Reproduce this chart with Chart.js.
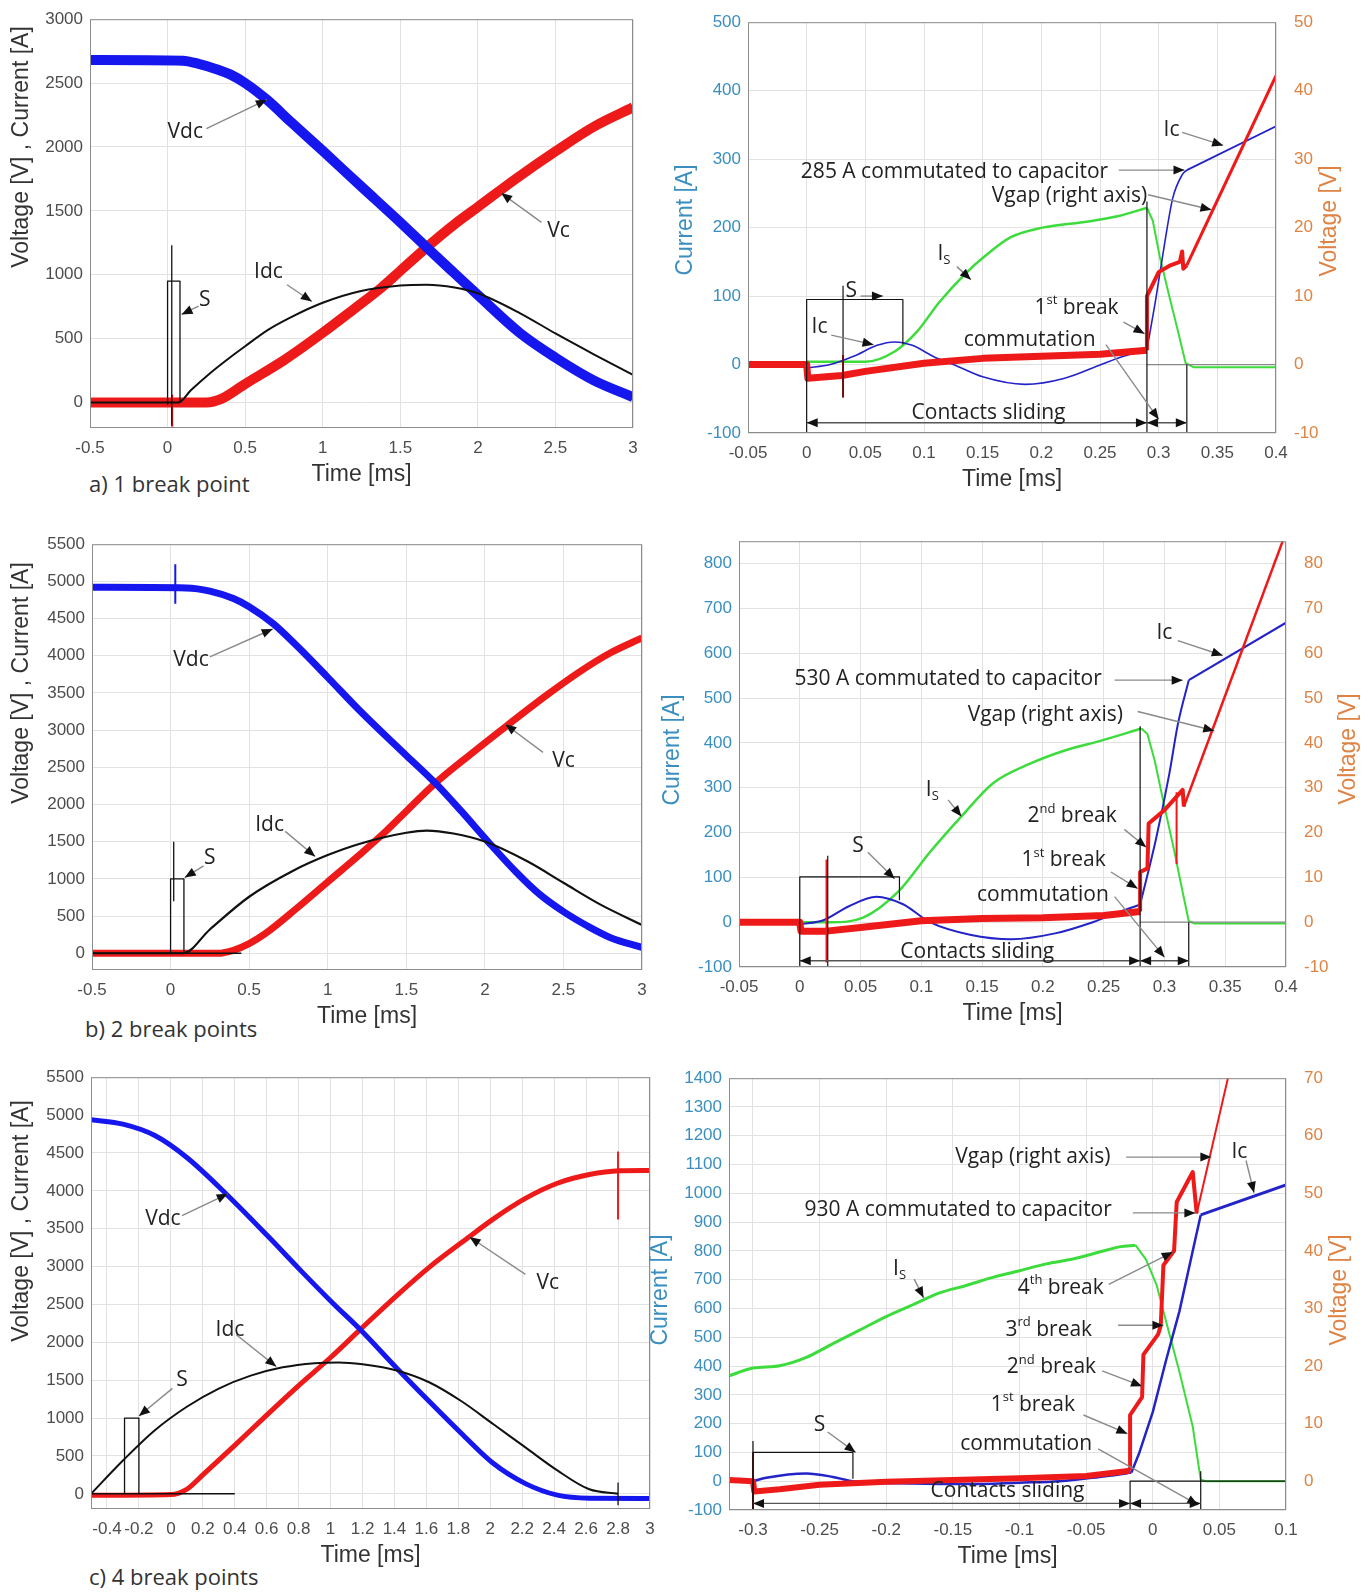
<!DOCTYPE html>
<html>
<head>
<meta charset="utf-8">
<script src="https://cdn.jsdelivr.net/npm/chart.js@4.4.1/dist/chart.umd.min.js"></script>
<style>
body { margin:0; background:#fff; width:1369px; height:1593px; position:relative; overflow:hidden; }
canvas { position:absolute; }
.lbl { position:absolute; font-family:'Open Sans',sans-serif; font-size:22px; color:#333; white-space:nowrap; line-height:1; }
</style>
</head>
<body>
<div class="lbl" style="left:89px;top:472px">a) 1 break point</div>
<div class="lbl" style="left:85px;top:1017px">b) 2 break points</div>
<div class="lbl" style="left:89px;top:1565px">c) 4 break points</div>
<script>
// ---- axes ----
const aTicksX = [-0.5, 0, 0.5, 1, 1.5, 2, 2.5, 3];
const aTicksY = [0, 500, 1000, 1500, 2000, 2500, 3000];
const bTicksY = [0, 500, 1000, 1500, 2000, 2500, 3000, 3500, 4000, 4500, 5000, 5500];
const cTicksX = [-0.4, -0.2, 0, 0.2, 0.4, 0.6, 0.8, 1, 1.2, 1.4, 1.6, 1.8, 2, 2.2, 2.4, 2.6, 2.8, 3];
const rTicksX = [-0.05, 0, 0.05, 0.1, 0.15, 0.2, 0.25, 0.3, 0.35, 0.4];
const aRTicksY = [-100, 0, 100, 200, 300, 400, 500];
const aRTicksV = [-10, 0, 10, 20, 30, 40, 50];
const bRTicksY = [-100, 0, 100, 200, 300, 400, 500, 600, 700, 800];
const bRTicksV = [-10, 0, 10, 20, 30, 40, 50, 60, 70, 80];
const cRTicksX = [-0.3, -0.25, -0.2, -0.15, -0.1, -0.05, 0, 0.05, 0.1];
const cRTicksY = [-100, 0, 100, 200, 300, 400, 500, 600, 700, 800, 900, 1000, 1100, 1200, 1300, 1400];
const cRTicksV = [0, 10, 20, 30, 40, 50, 60, 70];

// ---- a) 1 break point, [ms] / [V],[A] ----
const aVdc = [[-0.5,2680],[0.1,2675],[0.2,2650],[0.3,2615],[0.4,2570],[0.5,2500],[0.64,2370],[0.8,2190],[1.0,1970],[1.24,1700],[1.5,1410],[1.67,1214],[1.85,1010],[2.0,841],[2.27,545],[2.5,351],[2.75,171],[3.0,42]];
const aVc = [[-0.5,0],[0.25,0],[0.35,30],[0.5,145],[0.75,330],[1.0,545],[1.2,730],[1.38,900],[1.5,1030],[1.67,1214],[1.85,1395],[2.0,1530],[2.25,1755],[2.5,1965],[2.75,2160],[3.0,2310]];
const aIdc = [[-0.5,0],[0.07,0],[0.15,95],[0.27,225],[0.4,350],[0.5,440],[0.65,570],[0.8,670],[1.0,780],[1.24,870],[1.5,915],[1.67,922],[1.85,900],[2.0,855],[2.27,700],[2.5,540],[2.75,375],[3.0,215]];
const aS = [[0,-20],[0,950],[0.08,950],[0.08,0]];
const aSpike = [[0.027,-180],[0.027,1230]];
const aVcSpike = [[0.03,-190],[0.03,60]];

// ---- a) right, current [A] and Vgap [V] ----
const aRIsRise = [[0,4],[0.05,4],[0.075,19],[0.094,48],[0.113,91],[0.136,134],[0.151,157],[0.174,186],[0.201,200],[0.24,209],[0.266,217],[0.29,229]];
const aRIsDrop = [[0.29,229],[0.295,210],[0.301,157],[0.309,100],[0.316,52],[0.323,2],[0.33,-4],[0.4,-4]];
const aRIcSlide = [[0,-5],[0.02,0],[0.04,12],[0.06,28],[0.075,33],[0.09,28],[0.11,10],[0.125,0],[0.15,-18],[0.186,-29],[0.22,-20],[0.251,0],[0.27,12],[0.29,22]];
const aRIcRise = [[0.29,22],[0.297,90],[0.305,176],[0.312,243],[0.32,277],[0.324,284]];
const aRIcCap = [[0.324,284],[0.4,348]];
const aRVgNoise = [[-0.05,0],[-0.02,0],[0,0],[0.001,-2],[0.03,-1.6],[0.05,-1],[0.1,0.2],[0.15,0.9],[0.2,1.2],[0.25,1.5],[0.29,2.1]];
const aRVgBreak = [[0.29,2.1],[0.29,10],[0.3,13.5],[0.31,14.5],[0.318,15],[0.32,16.5],[0.321,14],[0.324,14.5]];
const aRVgLine = [[0.324,14.5],[0.4,42.2]];
const aRVgSpike = [[0.031,-4.8],[0.031,1.4]];
const aRS = [[0,-100],[0,95],[0.082,95],[0.082,30]];
const aRSpike = [[0.031,-48],[0.031,115]];
const aRCut1 = [[0.29,-100],[0.29,238]];
const aRCut2 = [[0.324,-100],[0.324,0]];
const aRBase = [[0.29,0],[0.4,0]];

// ---- b) 2 break points ----
const bVdc = [[-0.5,4920],[0.1,4912],[0.25,4870],[0.4,4770],[0.5,4660],[0.654,4430],[0.8,4140],[1.0,3710],[1.2,3270],[1.4,2860],[1.5,2660],[1.69,2277],[1.85,1910],[2.02,1502],[2.2,1090],[2.35,790],[2.5,560],[2.65,370],[2.8,210],[3.0,80]];
const bVc = [[-0.5,0],[0.3,0],[0.4,40],[0.5,130],[0.6,260],[0.8,600],[1.0,960],[1.2,1320],[1.37,1640],[1.5,1910],[1.68,2277],[1.9,2660],[2.14,3060],[2.4,3480],[2.6,3780],[2.8,4040],[3.0,4240]];
const bIdc = [[-0.5,0],[0.08,0],[0.25,320],[0.5,760],[0.78,1110],[1.0,1320],[1.2,1470],[1.5,1620],[1.63,1650],[1.8,1610],[2.0,1502],[2.27,1236],[2.5,948],[2.73,661],[3.0,380]];
const bZero = [[-0.5,0],[0.45,0]];
const bS = [[0,0],[0,1000],[0.085,1000],[0.085,0]];
const bSpike = [[0.02,700],[0.02,1500]];
const bVdcSpike = [[0.03,4700],[0.03,5230]];

// ---- b) right ----
const bRIsRise = [[0,0],[0.026,0],[0.052,10],[0.081,68],[0.107,156],[0.133,236],[0.159,310],[0.189,353],[0.218,383],[0.248,405],[0.281,432]];
const bRIsDrop = [[0.281,432],[0.286,420],[0.292,360],[0.3,258],[0.308,160],[0.314,80],[0.32,2],[0.325,-3],[0.4,-3]];
const bRIcSlide = [[0,-5],[0.02,5],[0.04,35],[0.063,57],[0.085,40],[0.107,0],[0.14,-28],[0.174,-38],[0.21,-25],[0.241,0],[0.265,25],[0.28,39]];
const bRIcRise = [[0.28,39],[0.293,185],[0.304,331],[0.311,441],[0.32,540]];
const bRIcCap = [[0.32,540],[0.4,668]];
const bRVgNoise = [[-0.05,0],[0,0],[0.001,-2],[0.022,-2],[0.05,-1.2],[0.1,0.3],[0.15,0.8],[0.2,1.0],[0.25,1.5],[0.28,2.4]];
const bRVgBreak = [[0.28,2.4],[0.28,11.2],[0.286,12],[0.287,22],[0.3,25],[0.315,29.5],[0.316,25.8]];
const bRVgLine = [[0.316,25.8],[0.4,87]];
const bRVgSpike1 = [[0.022,-9],[0.022,14]];
const bRVgSpike2 = [[0.31,13],[0.31,29]];
const bRS = [[0,-100],[0,101],[0.082,101],[0.082,50]];
const bRSpike = [[0.023,-100],[0.023,148]];
const bRCut1 = [[0.28,-100],[0.28,437]];
const bRCut2 = [[0.32,-100],[0.32,0]];
const bRBase = [[0.28,0],[0.4,0]];

// ---- c) 4 break points ----
const cVdc = [[-0.5,4939],[-0.3,4880],[-0.1,4730],[0.1,4440],[0.356,3939],[0.61,3396],[0.812,2950],[1.013,2520],[1.19,2160],[1.416,1656],[1.617,1222],[1.818,800],[2.02,400],[2.22,135],[2.42,-17],[2.62,-57],[3.0,-60]];
const cVc = [[-0.5,-20],[0,-10],[0.05,10],[0.1,60],[0.2,250],[0.4,640],[0.6,1040],[0.8,1430],[1.0,1800],[1.19,2178],[1.416,2620],[1.617,2990],[1.86,3380],[2.02,3630],[2.22,3900],[2.42,4100],[2.62,4215],[2.81,4265],[3.0,4270]];
const cIdc = [[-0.5,0],[-0.3,440],[-0.1,840],[0.1,1150],[0.3,1390],[0.5,1560],[0.7,1670],[0.9,1725],[1.05,1735],[1.2,1710],[1.42,1625],[1.62,1470],[1.82,1222],[2.02,918],[2.22,613],[2.42,309],[2.62,60],[2.8,0]];
const cZero = [[-0.5,0],[0.4,0]];
const cS = [[-0.29,0],[-0.29,1000],[-0.2,1000],[-0.2,0]];
const cVcSpike = [[2.8,3620],[2.8,4520]];
const cEndSpike = [[2.8,-150],[2.8,150]];

// ---- c) right ----
const cRIsRise = [[-0.318,366],[-0.3,393],[-0.28,401],[-0.26,430],[-0.24,478],[-0.22,525],[-0.2,572],[-0.18,613],[-0.16,654],[-0.14,680],[-0.12,708],[-0.1,731],[-0.08,755],[-0.06,772],[-0.04,796],[-0.025,814],[-0.013,820]];
const cRIsDrop = [[-0.013,820],[-0.005,770],[0.003,680],[0.012,520],[0.02,380],[0.03,190],[0.036,5],[0.04,0],[0.1,0]];
const cRIcSlide = [[-0.3,0],[-0.29,12],[-0.26,27],[-0.24,15],[-0.225,0],[-0.18,-8],[-0.14,-10],[-0.1,-5],[-0.07,0],[-0.04,15],[-0.02,27],[-0.016,30]];
const cRIcRise = [[-0.016,30],[-0.01,100],[0,240],[0.01,420],[0.02,590],[0.03,800],[0.036,925]];
const cRIcCap = [[0.036,925],[0.1,1029]];
const cRVgNoise = [[-0.318,0.2],[-0.3,0],[-0.299,-1.8],[-0.28,-1.4],[-0.25,-0.6],[-0.2,-0.1],[-0.15,0.2],[-0.1,0.5],[-0.05,0.9],[-0.017,1.8]];
const cRVgBreak = [[-0.017,1.8],[-0.017,11.5],[-0.008,14.6],[-0.007,22],[0.004,25.5],[0.006,27],[0.008,37.5],[0.016,40],[0.018,48.5],[0.03,53.7],[0.033,46.5]];
const cRVgLine = [[0.033,46.5],[0.06,73.6]];
const cRVgSpike = [[-0.3,-5],[-0.3,5]];
const cRS = [[-0.3,-100],[-0.3,100],[-0.225,100],[-0.225,10]];
const cRSpike = [[-0.3,-100],[-0.3,140]];
const cRCut1 = [[-0.017,-100],[-0.017,0],[0.1,0]];
const cRCut2 = [[0.036,-100],[0.036,35]];

// ---- styling ----
const BLUE = '#1616ee', RED = '#ee1a1a', GREEN = '#3ddc3d', BLACK = '#111111', NAVY = '#2323c8';
const TEAL = '#3a8fc0', ORANGE = '#de8344';
const TICK_FONT = { family: 'Liberation Sans', size: 17 };

function pts(a) { return a.map(p => ({ x: p[0], y: p[1] })); }
function line(data, color, width, extra) {
    return Object.assign({ data: pts(data), borderColor: color, borderWidth: width, pointRadius: 0,
        fill: false, tension: 0, clip: 0, borderJoinStyle: 'round' }, extra || {});
}
function curve(data, color, width, extra) {
    return line(data, color, width, Object.assign({ cubicInterpolationMode: 'monotone' }, extra || {}));
}

function axis(sp, color, pad, fit) {
    return {
        type: 'linear', min: sp.min, max: sp.max,
        afterBuildTicks: s => { s.ticks = sp.ticks.map(v => ({ value: v })); },
        afterFit: fit,
        grid: { color: '#e2e2e2', drawTicks: false },
        border: { display: false },
        ticks: { autoSkip: false, maxRotation: 0, padding: pad, color: color, font: TICK_FONT, callback: v => String(v) }
    };
}

// texte avec indice / exposant
function rich(ctx, parts, x, y, size) {
    if (typeof parts === 'string') parts = [parts];
    const segs = parts.map(p => typeof p === 'string'
        ? { t: p, s: size, dy: 0 }
        : { t: p.t, s: Math.round(size * 0.6), dy: p.sup ? -size * 0.35 : size * 0.3 });
    let tot = 0;
    segs.forEach(g => { ctx.font = g.s + "px 'Open Sans'"; g.w = ctx.measureText(g.t).width; tot += g.w; });
    let cx = x - tot / 2;
    ctx.textAlign = 'left'; ctx.textBaseline = 'middle'; ctx.fillStyle = '#222';
    segs.forEach(g => { ctx.font = g.s + "px 'Open Sans'"; ctx.fillText(g.t, cx, y + g.dy); cx += g.w; });
}

function head(ctx, x1, y1, x2, y2) {
    const a = Math.atan2(y2 - y1, x2 - x1), L = 11, W = 4.5;
    ctx.fillStyle = '#111';
    ctx.beginPath();
    ctx.moveTo(x2, y2);
    ctx.lineTo(x2 - L * Math.cos(a) + W * Math.sin(a), y2 - L * Math.sin(a) - W * Math.cos(a));
    ctx.lineTo(x2 - L * Math.cos(a) - W * Math.sin(a), y2 - L * Math.sin(a) + W * Math.cos(a));
    ctx.closePath();
    ctx.fill();
}

function vtext(ctx, text, x, y, color) {
    ctx.save();
    ctx.translate(x, y);
    ctx.rotate(-Math.PI / 2);
    ctx.font = "23px 'Liberation Sans'";
    ctx.fillStyle = color; ctx.textAlign = 'center'; ctx.textBaseline = 'middle';
    ctx.fillText(text, 0, 0);
    ctx.restore();
}

function notesPlugin(n, offX, offY) {
    return {
        id: 'notes',
        afterDraw(chart) {
            const ctx = chart.ctx, ca = chart.chartArea, sx = chart.scales.x, sy = chart.scales.y;
            const P = p => [sx.getPixelForValue(p[0]), sy.getPixelForValue(p[1])];
            ctx.save();
            ctx.strokeStyle = '#8c8c8c'; ctx.lineWidth = 1;
            ctx.strokeRect(ca.left + 0.5, ca.top + 0.5, ca.right - ca.left - 1, ca.bottom - ca.top - 1);
            (n.arrows || []).forEach(a => {
                const p1 = P(a[0]), p2 = P(a[1]);
                ctx.strokeStyle = a[2] ? '#555' : '#8a8a8a'; ctx.lineWidth = 1.4;
                ctx.beginPath(); ctx.moveTo(p1[0], p1[1]); ctx.lineTo(p2[0], p2[1]); ctx.stroke();
                head(ctx, p1[0], p1[1], p2[0], p2[1]);
                if (a[2]) head(ctx, p2[0], p2[1], p1[0], p1[1]);
            });
            (n.texts || []).forEach(t => { const p = P(t[1]); rich(ctx, t[0], p[0], p[1], 21); });
            ctx.font = "23px 'Liberation Sans'"; ctx.fillStyle = '#333';
            ctx.textAlign = 'center'; ctx.textBaseline = 'middle';
            ctx.fillText('Time [ms]', (ca.left + ca.right) / 2, ca.bottom + 47);
            vtext(ctx, n.yTitle.t, n.yTitle.x - offX, n.yTitle.y - offY, n.y2Title ? TEAL : '#333');
            if (n.y2Title) vtext(ctx, n.y2Title.t, n.y2Title.x - offX, n.y2Title.y - offY, ORANGE);
            ctx.restore();
        }
    };
}

function makePanel(box, xs, ys, y2s, datasets, notes) {
    const WL = 90, WR = y2s ? 80 : 25, PT = 12, HB = 70;
    const w = box.r - box.l + WL + WR, h = box.b - box.t + PT + HB;
    const offX = box.l - WL, offY = box.t - PT;
    const cv = document.createElement('canvas');
    cv.width = w; cv.height = h;
    cv.style.left = offX + 'px'; cv.style.top = offY + 'px';
    cv.style.width = w + 'px'; cv.style.height = h + 'px';
    document.body.appendChild(cv);
    const scales = {
        x: axis(xs, '#4d4d4d', 10, s => { s.height = HB; }),
        y: axis(ys, y2s ? TEAL : '#4d4d4d', 7, s => { s.width = WL; })
    };
    if (y2s) {
        scales.y2 = axis(y2s, ORANGE, 10, s => { s.width = WR; });
        scales.y2.position = 'right';
        scales.y2.grid = { display: false };
    }
    new Chart(cv, {
        type: 'line',
        data: { datasets: datasets },
        options: {
            responsive: false, animation: false, devicePixelRatio: 1, events: [],
            layout: { padding: { top: PT, left: 0, bottom: 0, right: y2s ? 0 : WR } },
            scales: scales,
            plugins: { legend: { display: false }, tooltip: { enabled: false } }
        },
        plugins: [notesPlugin(notes, offX, offY)]
    });
}

const V = { yAxisID: 'y2' };

// a) gauche
makePanel({ l: 90, t: 14, r: 633, b: 428 },
    { min: -0.5, max: 3, ticks: aTicksX }, { min: -200, max: 3000, ticks: aTicksY }, null,
    [line(aS, BLACK, 1.3), line(aSpike, BLACK, 1.3), curve(aIdc, BLACK, 2),
     curve(aVdc, BLUE, 10), curve(aVc, RED, 10), line(aVcSpike, RED, 2)],
    { texts: [['Vdc', [0.114, 2117]], ['Vc', [2.52, 1345]], ['Idc', [0.65, 1024]], ['S', [0.24, 805]]],
      arrows: [[[0.25, 2143], [0.64, 2370]], [[2.41, 1410], [2.15, 1639]], [[0.77, 921], [0.93, 790]], [[0.2, 754], [0.09, 689]]],
      yTitle: { t: 'Voltage [V] , Current [A]', x: 22, y: 147 } });

// a) droite
makePanel({ l: 748, t: 14, r: 1276, b: 433 },
    { min: -0.05, max: 0.4, ticks: rTicksX }, { min: -100, max: 500, ticks: aRTicksY }, { min: -10, max: 50, ticks: aRTicksV },
    [line(aRS, BLACK, 1.2), line(aRSpike, BLACK, 1.2), line(aRCut1, BLACK, 1.2), line(aRCut2, BLACK, 1.2), line(aRBase, '#888', 1.2),
     line(aRVgSpike, RED, 2, V), line(aRVgNoise, RED, 7, V), line(aRVgBreak, RED, 4, V), line(aRVgLine, RED, 3, V),
     curve(aRIcSlide, NAVY, 1.6), curve(aRIcRise, NAVY, 1.6), line(aRIcCap, NAVY, 1.8),
     curve(aRIsRise, GREEN, 2.5), line(aRIsDrop, GREEN, 2)],
    { texts: [['Ic', [0.311, 343]], ['285 A commutated to capacitor', [0.126, 281]], ['Vgap (right axis)', [0.224, 246]],
              [['I', { t: 'S', sub: true }], [0.117, 162]], ['S', [0.038, 107]], ['Ic', [0.011, 55]],
              [['1', { t: 'st', sup: true }, ' break'], [0.23, 83]], ['commutation', [0.19, 36]], ['Contacts sliding', [0.155, -71]]],
      arrows: [[[0.32, 339], [0.355, 320]], [[0.266, 284], [0.322, 284]], [[0.291, 248], [0.345, 226]],
               [[0.128, 143], [0.14, 124]], [[0.046, 100], [0.065, 100]], [[0.021, 43], [0.057, 29]],
               [[0.27, 62], [0.288, 45]], [[0.255, 29], [0.3, -80]],
               [[0, -85], [0.29, -85], true], [[0.29, -85], [0.324, -85], true]],
      yTitle: { t: 'Current [A]', x: 686, y: 220 }, y2Title: { t: 'Voltage [V]', x: 1330, y: 221 } });

// b) gauche
makePanel({ l: 92, t: 539, r: 642, b: 970 },
    { min: -0.5, max: 3, ticks: aTicksX }, { min: -225, max: 5500, ticks: bTicksY }, null,
    [line(bS, BLACK, 1.3), line(bSpike, BLACK, 1.3), curve(bIdc, BLACK, 2.2), line(bZero, BLACK, 1.5),
     line(bVdcSpike, BLUE, 2), curve(bVdc, BLUE, 7), curve(bVc, RED, 7)],
    { texts: [['Vdc', [0.13, 3941]], ['Vc', [2.5, 2591]], ['Idc', [0.63, 1727]], ['S', [0.25, 1284]]],
      arrows: [[[0.25, 3986], [0.65, 4360]], [[2.37, 2701], [2.13, 3080]], [[0.73, 1639], [0.92, 1300]], [[0.21, 1174], [0.09, 1018]]],
      yTitle: { t: 'Voltage [V] , Current [A]', x: 22, y: 683 } });

// b) droite
makePanel({ l: 739, t: 533, r: 1286, b: 967 },
    { min: -0.05, max: 0.4, ticks: rTicksX }, { min: -100, max: 850, ticks: bRTicksY }, { min: -10, max: 85, ticks: bRTicksV },
    [line(bRS, BLACK, 1.2), line(bRSpike, BLACK, 1.2), line(bRCut1, BLACK, 1.2), line(bRCut2, BLACK, 1.2), line(bRBase, '#888', 1.2),
     line(bRVgSpike1, RED, 2, V), line(bRVgSpike2, RED, 2, V), line(bRVgNoise, RED, 7, V), line(bRVgBreak, RED, 4, V), line(bRVgLine, RED, 2.5, V),
     curve(bRIcSlide, NAVY, 2), curve(bRIcRise, NAVY, 2), line(bRIcCap, NAVY, 2.2),
     curve(bRIsRise, GREEN, 2.5), line(bRIsDrop, GREEN, 2)],
    { texts: [['Ic', [0.3, 646]], ['530 A commutated to capacitor', [0.122, 542]], ['Vgap (right axis)', [0.202, 463]],
              [['I', { t: 'S', sub: true }], [0.109, 295]], [['2', { t: 'nd', sup: true }, ' break'], [0.224, 236]],
              [['1', { t: 'st', sup: true }, ' break'], [0.217, 138]], ['commutation', [0.2, 61]], ['S', [0.048, 170]],
              ['Contacts sliding', [0.146, -67]]],
      arrows: [[[0.311, 628], [0.348, 595]], [[0.259, 540], [0.315, 540]], [[0.278, 470], [0.341, 427]],
               [[0.122, 273], [0.133, 236]], [[0.267, 207], [0.285, 167]], [[0.256, 112], [0.278, 75]],
               [[0.259, 57], [0.3, -78]], [[0.056, 156], [0.078, 97]],
               [[0, -86], [0.28, -86], true], [[0.28, -86], [0.32, -86], true]],
      yTitle: { t: 'Current [A]', x: 673, y: 750 }, y2Title: { t: 'Voltage [V]', x: 1349, y: 749 } });

// c) gauche
makePanel({ l: 91, t: 1072, r: 650, b: 1509 },
    { min: -0.5, max: 3, ticks: cTicksX }, { min: -200, max: 5500, ticks: bTicksY }, null,
    [line(cS, BLACK, 1.3), curve(cIdc, BLACK, 2), line(cZero, BLACK, 1.5), line(cEndSpike, BLACK, 1.3),
     line(cVcSpike, RED, 2), curve(cVdc, BLUE, 5), curve(cVc, RED, 5)],
    { texts: [['Vdc', [-0.05, 3628]], ['Vc', [2.36, 2784]], ['Idc', [0.37, 2168]], ['S', [0.07, 1506]]],
      arrows: [[[0.07, 3674], [0.356, 3960]], [[2.22, 2898], [1.87, 3390]], [[0.41, 2100], [0.66, 1680]], [[0.01, 1392], [-0.2, 1027]]],
      yTitle: { t: 'Voltage [V] , Current [A]', x: 22, y: 1221 } });

// c) droite
makePanel({ l: 729, t: 1070, r: 1286, b: 1510 },
    { min: -0.318, max: 0.1, ticks: cRTicksX }, { min: -100, max: 1400, ticks: cRTicksY }, { min: -5, max: 70, ticks: cRTicksV },
    [line(cRS, BLACK, 1.2), line(cRSpike, BLACK, 1.2), line(cRCut1, BLACK, 1.2), line(cRCut2, BLACK, 1.2),
     line(cRVgSpike, RED, 2, V), line(cRVgNoise, RED, 6, V), line(cRVgBreak, RED, 4, V), line(cRVgLine, RED, 2, V),
     curve(cRIcSlide, NAVY, 2.5), line(cRIcRise, NAVY, 2.5), line(cRIcCap, NAVY, 3),
     curve(cRIsRise, GREEN, 3), line(cRIsDrop, GREEN, 2)],
    { texts: [['Vgap (right axis)', [-0.09, 1126]], ['Ic', [0.065, 1144]], ['930 A commutated to capacitor', [-0.146, 943]],
              [['I', { t: 'S', sub: true }], [-0.19, 737]], [['4', { t: 'th', sup: true }, ' break'], [-0.069, 672]],
              [['3', { t: 'rd', sup: true }, ' break'], [-0.078, 525]], [['2', { t: 'nd', sup: true }, ' break'], [-0.076, 395]],
              [['1', { t: 'st', sup: true }, ' break'], [-0.09, 265]], ['commutation', [-0.095, 130]], ['S', [-0.25, 195]],
              ['Contacts sliding', [-0.109, -35]]],
      arrows: [[[-0.02, 1126], [0.044, 1126]], [[0.07, 1114], [0.076, 1002]], [[-0.015, 932], [0.032, 932]],
               [[-0.179, 702], [-0.172, 637]], [[-0.033, 684], [0.015, 796]], [[-0.026, 542], [0.008, 542]],
               [[-0.038, 383], [-0.008, 330]], [[-0.052, 230], [-0.019, 165]], [[-0.041, 112], [0.034, -82]],
               [[-0.244, 171], [-0.223, 100]],
               [[-0.3, -77], [-0.017, -77], true], [[-0.017, -77], [0.036, -77], true]],
      yTitle: { t: 'Current [A]', x: 661, y: 1290 }, y2Title: { t: 'Voltage [V]', x: 1340, y: 1290 } });
</script>
</body>
</html>
